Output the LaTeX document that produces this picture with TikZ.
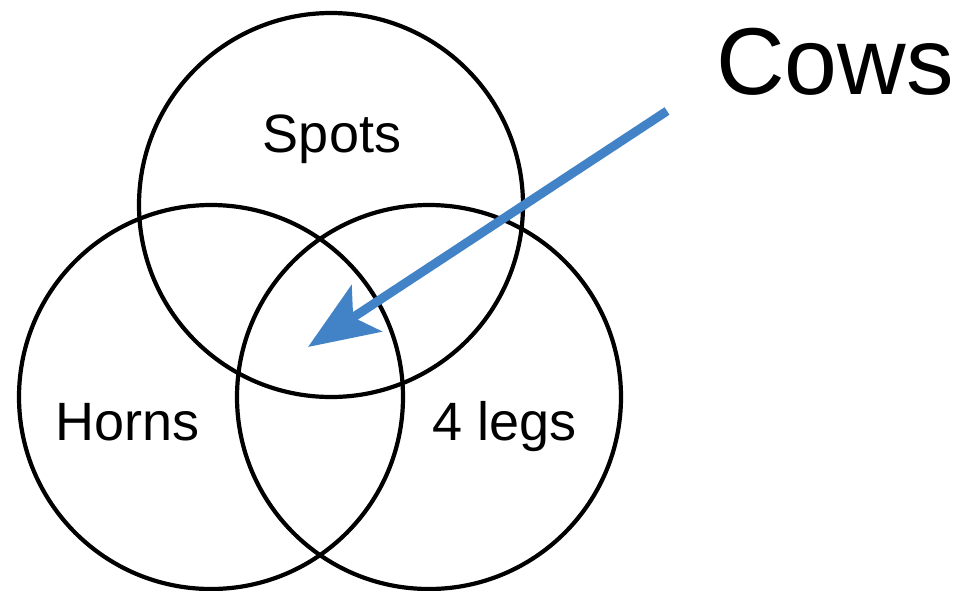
\documentclass[tikz,border=0pt]{standalone}
\usepackage{fontspec}
\setmainfont{Liberation Sans}
\usepackage{xcolor}
\usetikzlibrary{positioning, arrows.meta}
\definecolor{cowblue}{RGB}{66,131,200}

\begin{document}
\begin{tikzpicture}[
  x=1pt, y=-1pt,
  venn/.style={draw, circle, line width=4.2pt, minimum size=384pt, inner sep=0pt},
  lab/.style={font=\fontsize{54}{60}\selectfont, anchor=base, inner sep=0pt},
  big/.style={font=\fontsize{95}{100}\selectfont, anchor=base, inner sep=0pt},
  ar/.style={-{Stealth[length=70pt, width=55pt, inset=16pt]}, line width=9pt, cowblue},
]
\useasboundingbox (0,0) rectangle (957,590);
% ===================== circles =====================
\node[venn] (spots) at (331,205) {};
\node[venn] (horns) at (211,397) {};
\node[venn] (legs)  at (429,397) {};

% ===================== labels =====================
\node[lab] (spotslab) at (332,152) {Spots};
\node[lab] (hornslab) at (128,440) {Horns};
\node[lab] (legslab)  at (505,440) {4 legs};
\node[big] (cows)     at (835,94)  {Cows};

% ===================== arrow =====================
\coordinate (tail) at (667,111);
\coordinate (tip)  at (308,347);
\draw[ar] (tail) -- (tip);
\end{tikzpicture}
\end{document}
